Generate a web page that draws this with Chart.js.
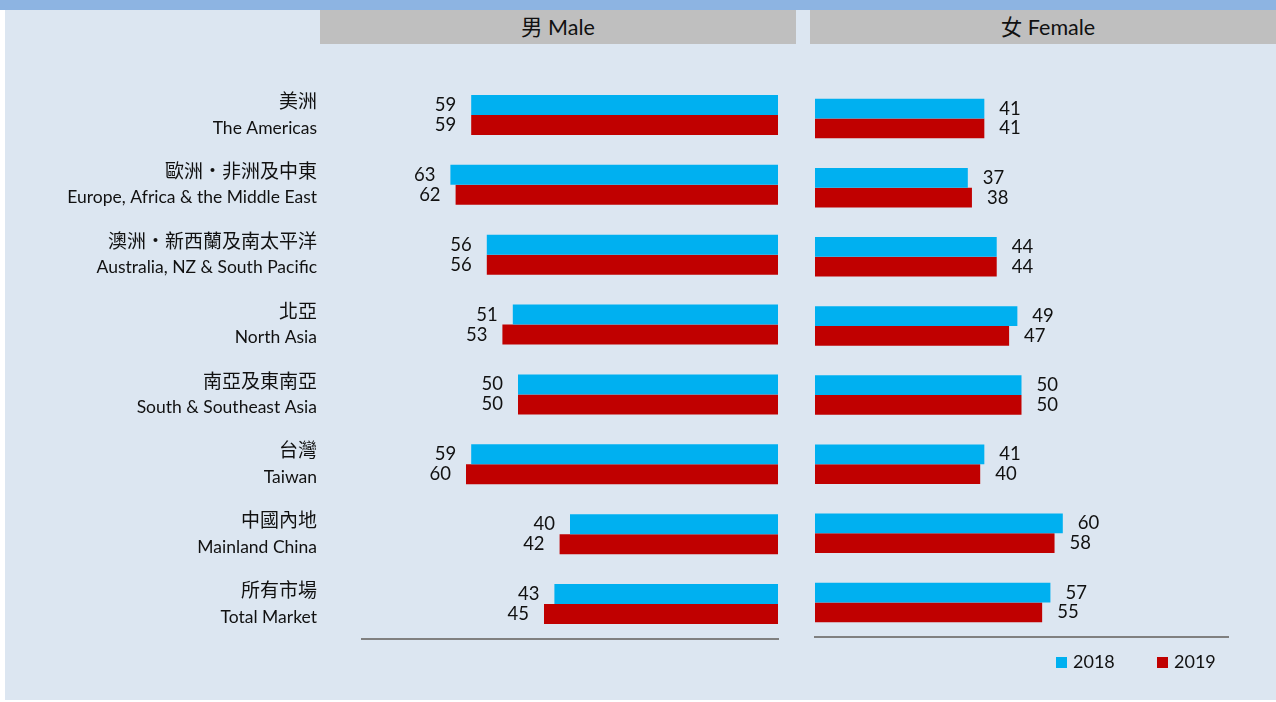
<!DOCTYPE html>
<html>
<head>
<meta charset="utf-8">
<script src="https://cdn.jsdelivr.net/npm/chart.js@4"></script>
<style>
  html, body { margin: 0; padding: 0; background: #fff; }
  body { width: 1276px; height: 702px; position: relative; overflow: hidden;
         font-family: Lato, 'Noto Sans CJK TC', sans-serif; color: #111; }
  #panel { position: absolute; left: 5px; top: 0; width: 1271px; height: 700px; background: #dce6f1; }
  #topbar { position: absolute; left: 0; top: 0; width: 1276px; height: 10px; background: #8db4e2; }
  .head { position: absolute; top: 10px; height: 34px; line-height: 34px; background: #bfbfbf;
          text-align: center; font-size: 21.5px; }
  .box { position: absolute; }
  .legend { position: absolute; top: 650px; font-size: 18px; line-height: 22px; }
  .legend span.sw { display: inline-block; width: 11px; height: 11px; margin-right: 6px; vertical-align: 0px; }
</style>
</head>
<body>
<div id="panel"></div>
<div id="topbar"></div>
<div class="head" style="left:320px;width:476px;">男 Male</div>
<div class="head" style="left:810px;width:476px;">女 Female</div>

<!-- male canvas is a bit taller than the page: the axis label padding eats into the bottom -->
<div class="box" style="left:0;top:0;width:796px;height:710px;"><canvas id="maleChart"></canvas></div>
<div class="box" style="left:800px;top:0;width:476px;height:702px;"><canvas id="femaleChart"></canvas></div>

<div class="legend" style="left:1056px;"><span class="sw" style="background:#00b0f0"></span>2018</div>
<div class="legend" style="left:1157px;"><span class="sw" style="background:#c00000"></span>2019</div>

<script>
// categories (Chinese / English)
const regionsZh = ['美洲', '歐洲‧非洲及中東', '澳洲‧新西蘭及南太平洋', '北亞', '南亞及東南亞', '台灣', '中國內地', '所有市場'];
const regionsEn = ['The Americas', 'Europe, Africa & the Middle East', 'Australia, NZ & South Pacific', 'North Asia',
                   'South & Southeast Asia', 'Taiwan', 'Mainland China', 'Total Market'];

// percentages
const male2018 = [59, 63, 56, 51, 50, 59, 40, 43];
const male2019 = [59, 62, 56, 53, 50, 60, 42, 45];
const female2018 = [41, 37, 44, 49, 50, 41, 60, 57];
const female2019 = [41, 38, 44, 47, 50, 40, 58, 55];

const years = ['2018', '2019'];
const BLUE = '#00b0f0';
const RED = '#c00000';
const FONT = "Lato, 'Noto Sans CJK TC', sans-serif";
const LABEL_PAD = 45;

// draws the number next to the end of each bar
const valueLabels = {
    id: 'valueLabels',
    afterDatasetsDraw(chart, args, opts) {
        const ctx = chart.ctx;
        ctx.save();
        ctx.font = '18.5px ' + FONT;
        ctx.fillStyle = '#111';
        ctx.textBaseline = 'middle';
        chart.data.datasets.forEach((ds, i) => {
            chart.getDatasetMeta(i).data.forEach((bar, j) => {
                if (opts.side === 'left') {
                    ctx.textAlign = 'right';
                    ctx.fillText(ds.data[j], bar.x - 15, bar.y);
                } else {
                    ctx.textAlign = 'left';
                    ctx.fillText(ds.data[j], bar.x + 15, bar.y);
                }
            });
        });
        ctx.restore();
    }
};

// Chinese line of each category, above the English tick label (bigger font than the ticks)
const zhLabels = {
    id: 'zhLabels',
    afterDraw(chart) {
        const s = chart.scales.y;
        const ctx = chart.ctx;
        ctx.save();
        ctx.font = '19px ' + FONT;
        ctx.fillStyle = '#111';
        ctx.textAlign = 'right';
        ctx.textBaseline = 'middle';
        regionsZh.forEach((t, i) => ctx.fillText(t, s.right - LABEL_PAD, s.getPixelForTick(i) - 13));
        ctx.restore();
    }
};

function makeDatasets(a, b) {
    return [
        { label: years[0], data: a, backgroundColor: BLUE, categoryPercentage: 40 / 70, barPercentage: 1 },
        { label: years[1], data: b, backgroundColor: RED, categoryPercentage: 40 / 70, barPercentage: 1 }
    ];
}

// Male chart, bars grow to the left
new Chart(document.getElementById('maleChart'), {
    type: 'bar',
    data: {
        labels: regionsEn.map(en => ['', en]),
        datasets: makeDatasets(male2018, male2019)
    },
    options: {
        indexAxis: 'y',
        responsive: true,
        maintainAspectRatio: false,
        animation: false,
        layout: { padding: { top: 80, bottom: 55, left: 0, right: 18 } },
        plugins: { legend: { display: false }, tooltip: { enabled: false }, valueLabels: { side: 'left' } },
        scales: {
            x: {
                reverse: true, min: 0, max: 80,
                grid: { display: false, drawTicks: false },
                ticks: { display: false },
                border: { display: true, color: '#808080', width: 2 },
                afterFit: s => { s.height = 0; }
            },
            y: {
                grid: { display: false, drawTicks: false },
                border: { display: false },
                ticks: { color: '#111', padding: LABEL_PAD, font: { family: FONT, size: 17.5, lineHeight: '26px' } },
                afterFit: s => { s.width = 362; }
            }
        }
    },
    plugins: [valueLabels, zhLabels]
});

// Female chart, bars grow to the right
new Chart(document.getElementById('femaleChart'), {
    type: 'bar',
    data: {
        labels: regionsEn,
        datasets: makeDatasets(female2018, female2019)
    },
    options: {
        indexAxis: 'y',
        responsive: true,
        maintainAspectRatio: false,
        animation: false,
        layout: { padding: { top: 84, bottom: 65, left: 15, right: 48 } },
        plugins: { legend: { display: false }, tooltip: { enabled: false }, valueLabels: { side: 'right' } },
        scales: {
            x: {
                min: 0, max: 100,
                grid: { display: false, drawTicks: false },
                ticks: { display: false },
                border: { display: true, color: '#808080', width: 2 },
                afterFit: s => { s.height = 0; }
            },
            y: { display: false }
        }
    },
    plugins: [valueLabels]
});
</script>
</body>
</html>
